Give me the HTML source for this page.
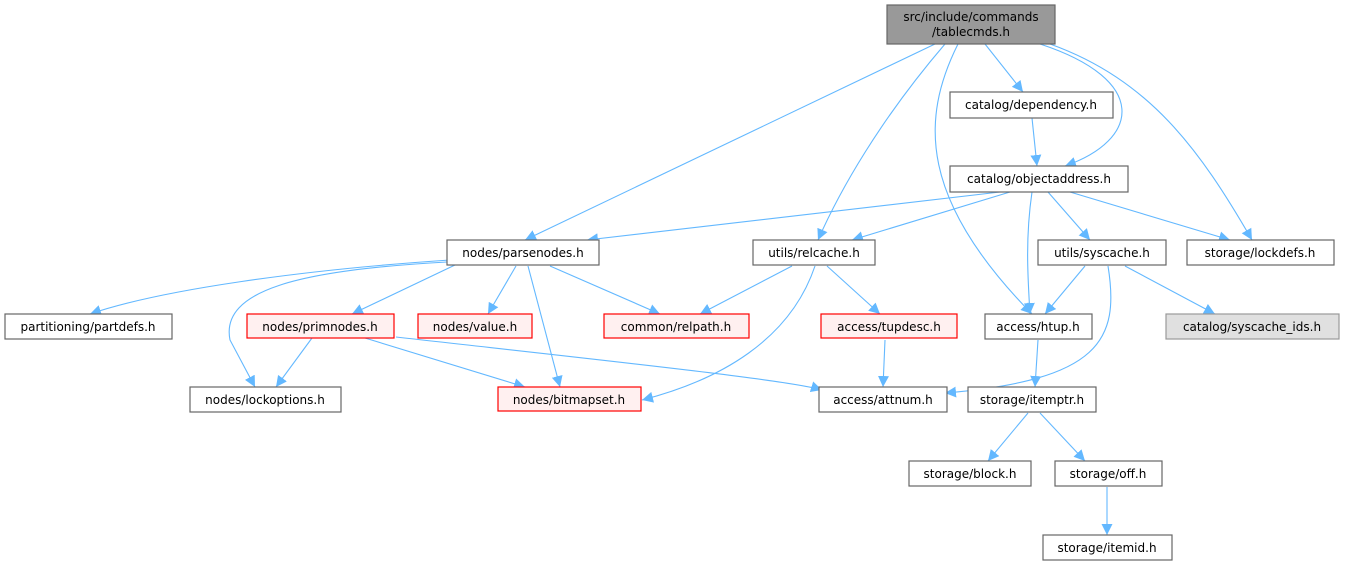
<!DOCTYPE html>
<html><head><meta charset="utf-8"><style>
html,body{margin:0;padding:0;background:#fff;}
svg{display:block;}
text{font-family:"DejaVu Sans","Liberation Sans",sans-serif;font-size:12px;fill:#000;text-anchor:middle;}
.n{fill:#fff;stroke:#666;stroke-width:1.2;}
.r{fill:#fff0f0;stroke:#f00;stroke-width:1.2;}
.g{fill:#999;stroke:#666;stroke-width:1.2;}
.l{fill:#e0e0e0;stroke:#999;stroke-width:1.2;}
.e{fill:none;stroke:#63b8ff;stroke-width:1.1;marker-end:url(#a);}
</style></head><body>
<svg width="1345" height="564" viewBox="0 0 1345 564" xmlns="http://www.w3.org/2000/svg">
<defs><marker id="a" viewBox="0 0 10 10" refX="10" refY="5" markerWidth="11" markerHeight="11" markerUnits="userSpaceOnUse" orient="auto"><path d="M0,0 L10,5 L0,10 z" fill="#63b8ff"/></marker></defs>
<!-- edges -->
<path class="e" d="M985,44 L1023,92"/>
<path class="e" d="M1040,44 C1150,80 1140,140 1065,166"/>
<path class="e" d="M935,44 L525,240"/>
<path class="e" d="M945,44 C880,120 840,190 818,240"/>
<path class="e" d="M958,44 C920,120 920,200 1032,314"/>
<path class="e" d="M1050,44 C1150,80 1200,150 1252,240"/>
<path class="e" d="M1032,118 L1037,166"/>
<path class="e" d="M1000,192 L587,240"/>
<path class="e" d="M1010,192 L852,240"/>
<path class="e" d="M1032,192 C1025,240 1028,280 1030,314"/>
<path class="e" d="M1048,192 L1090,240"/>
<path class="e" d="M1070,192 L1230,240"/>
<path class="e" d="M450,260 C300,270 160,290 90,314"/>
<path class="e" d="M455,265 L352,314"/>
<path class="e" d="M516,266 L488,314"/>
<path class="e" d="M550,266 L660,314"/>
<path class="e" d="M528,266 L560,387"/>
<path class="e" d="M447,262 C300,270 220,290 230,340 L255,387"/>
<path class="e" d="M792,266 L700,314"/>
<path class="e" d="M827,266 L880,314"/>
<path class="e" d="M815,266 C790,340 720,380 642,400"/>
<path class="e" d="M1085,266 L1045,314"/>
<path class="e" d="M1125,266 L1215,314"/>
<path class="e" d="M1108,266 C1120,340 1100,380 945,393"/>
<path class="e" d="M312,338 L276,387"/>
<path class="e" d="M365,338 L525,387"/>
<path class="e" d="M396,337 C600,360 790,380 822,390"/>
<path class="e" d="M885,340 L883,387"/>
<path class="e" d="M1038,340 L1035,387"/>
<path class="e" d="M1028,413 L988,461"/>
<path class="e" d="M1040,413 L1085,461"/>
<path class="e" d="M1107,487 L1107,535"/>
<!-- nodes -->
<rect class="g" x="887" y="5" width="168" height="39"/><text x="971" y="21">src/include/commands</text><text x="971" y="36">/tablecmds.h</text>
<rect class="n" x="950" y="92" width="163" height="26"/><text x="1031" y="109">catalog/dependency.h</text>
<rect class="n" x="950" y="166" width="178" height="26"/><text x="1039" y="183">catalog/objectaddress.h</text>
<rect class="n" x="447" y="240" width="152" height="25"/><text x="523" y="257">nodes/parsenodes.h</text>
<rect class="n" x="753" y="240" width="122" height="25"/><text x="814" y="257">utils/relcache.h</text>
<rect class="n" x="1038" y="240" width="128" height="25"/><text x="1102" y="257">utils/syscache.h</text>
<rect class="n" x="1187" y="240" width="147" height="25"/><text x="1260" y="257">storage/lockdefs.h</text>
<rect class="n" x="5" y="314" width="167" height="25"/><text x="88" y="331">partitioning/partdefs.h</text>
<rect class="r" x="247" y="314" width="147" height="24"/><text x="320" y="331">nodes/primnodes.h</text>
<rect class="r" x="418" y="314" width="114" height="24"/><text x="475" y="331">nodes/value.h</text>
<rect class="r" x="604" y="314" width="145" height="24"/><text x="676" y="331">common/relpath.h</text>
<rect class="r" x="821" y="314" width="136" height="24"/><text x="889" y="331">access/tupdesc.h</text>
<rect class="n" x="985" y="314" width="107" height="25"/><text x="1038" y="331">access/htup.h</text>
<rect class="l" x="1166" y="314" width="173" height="25"/><text x="1252" y="331">catalog/syscache_ids.h</text>
<rect class="n" x="190" y="387" width="151" height="25"/><text x="265" y="404">nodes/lockoptions.h</text>
<rect class="r" x="498" y="387" width="143" height="24"/><text x="569" y="404">nodes/bitmapset.h</text>
<rect class="n" x="819" y="387" width="128" height="25"/><text x="883" y="404">access/attnum.h</text>
<rect class="n" x="968" y="387" width="128" height="25"/><text x="1032" y="404">storage/itemptr.h</text>
<rect class="n" x="909" y="461" width="122" height="25"/><text x="970" y="478">storage/block.h</text>
<rect class="n" x="1055" y="461" width="107" height="25"/><text x="1108" y="478">storage/off.h</text>
<rect class="n" x="1043" y="535" width="129" height="25"/><text x="1107" y="552">storage/itemid.h</text>
</svg>
</body></html>
